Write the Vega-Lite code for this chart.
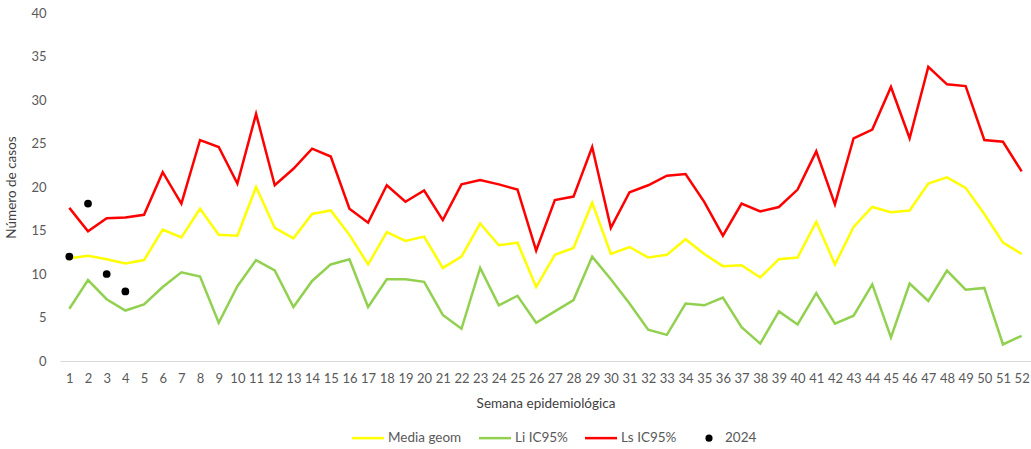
{
  "$schema": "https://vega.github.io/schema/vega-lite/v6.json",
  "autosize": {"type": "none"},
  "width": 971,
  "height": 348,
  "padding": {"left": 60, "top": 13, "right": 0, "bottom": 88},
  "background": "white",
  "config": {
    "font": "Lato",
    "view": {"stroke": null},
    "axis": {"labelFont": "Lato", "titleFont": "Lato", "labelColor": "#595959", "titleColor": "#404040", "labelFontSize": 13, "titleFontSize": 13.5, "titleFontWeight": "normal", "grid": false, "ticks": false}
  },
  "data": {"values": [
    {"semana":1,"serie":"Media geom","casos":11.8},{"semana":2,"serie":"Media geom","casos":12.1},{"semana":3,"serie":"Media geom","casos":11.7},{"semana":4,"serie":"Media geom","casos":11.2},{"semana":5,"serie":"Media geom","casos":11.6},{"semana":6,"serie":"Media geom","casos":15.1},{"semana":7,"serie":"Media geom","casos":14.2},{"semana":8,"serie":"Media geom","casos":17.5},{"semana":9,"serie":"Media geom","casos":14.5},{"semana":10,"serie":"Media geom","casos":14.4},
    {"semana":11,"serie":"Media geom","casos":20.0},{"semana":12,"serie":"Media geom","casos":15.3},{"semana":13,"serie":"Media geom","casos":14.1},{"semana":14,"serie":"Media geom","casos":16.9},{"semana":15,"serie":"Media geom","casos":17.3},{"semana":16,"serie":"Media geom","casos":14.5},{"semana":17,"serie":"Media geom","casos":11.1},{"semana":18,"serie":"Media geom","casos":14.8},{"semana":19,"serie":"Media geom","casos":13.8},{"semana":20,"serie":"Media geom","casos":14.3},
    {"semana":21,"serie":"Media geom","casos":10.7},{"semana":22,"serie":"Media geom","casos":12.0},{"semana":23,"serie":"Media geom","casos":15.8},{"semana":24,"serie":"Media geom","casos":13.3},{"semana":25,"serie":"Media geom","casos":13.6},{"semana":26,"serie":"Media geom","casos":8.5},{"semana":27,"serie":"Media geom","casos":12.2},{"semana":28,"serie":"Media geom","casos":13.0},{"semana":29,"serie":"Media geom","casos":18.2},{"semana":30,"serie":"Media geom","casos":12.3},
    {"semana":31,"serie":"Media geom","casos":13.1},{"semana":32,"serie":"Media geom","casos":11.9},{"semana":33,"serie":"Media geom","casos":12.2},{"semana":34,"serie":"Media geom","casos":14.0},{"semana":35,"serie":"Media geom","casos":12.3},{"semana":36,"serie":"Media geom","casos":10.9},{"semana":37,"serie":"Media geom","casos":11.0},{"semana":38,"serie":"Media geom","casos":9.6},{"semana":39,"serie":"Media geom","casos":11.7},{"semana":40,"serie":"Media geom","casos":11.9},
    {"semana":41,"serie":"Media geom","casos":16.0},{"semana":42,"serie":"Media geom","casos":11.1},{"semana":43,"serie":"Media geom","casos":15.4},{"semana":44,"serie":"Media geom","casos":17.7},{"semana":45,"serie":"Media geom","casos":17.1},{"semana":46,"serie":"Media geom","casos":17.3},{"semana":47,"serie":"Media geom","casos":20.4},{"semana":48,"serie":"Media geom","casos":21.1},{"semana":49,"serie":"Media geom","casos":19.9},{"semana":50,"serie":"Media geom","casos":16.9},
    {"semana":51,"serie":"Media geom","casos":13.6},{"semana":52,"serie":"Media geom","casos":12.3},
    {"semana":1,"serie":"Li IC95%","casos":6.0},{"semana":2,"serie":"Li IC95%","casos":9.3},{"semana":3,"serie":"Li IC95%","casos":7.1},{"semana":4,"serie":"Li IC95%","casos":5.8},{"semana":5,"serie":"Li IC95%","casos":6.5},{"semana":6,"serie":"Li IC95%","casos":8.5},{"semana":7,"serie":"Li IC95%","casos":10.2},{"semana":8,"serie":"Li IC95%","casos":9.7},{"semana":9,"serie":"Li IC95%","casos":4.4},{"semana":10,"serie":"Li IC95%","casos":8.6},
    {"semana":11,"serie":"Li IC95%","casos":11.6},{"semana":12,"serie":"Li IC95%","casos":10.4},{"semana":13,"serie":"Li IC95%","casos":6.2},{"semana":14,"serie":"Li IC95%","casos":9.2},{"semana":15,"serie":"Li IC95%","casos":11.1},{"semana":16,"serie":"Li IC95%","casos":11.7},{"semana":17,"serie":"Li IC95%","casos":6.2},{"semana":18,"serie":"Li IC95%","casos":9.4},{"semana":19,"serie":"Li IC95%","casos":9.4},{"semana":20,"serie":"Li IC95%","casos":9.1},
    {"semana":21,"serie":"Li IC95%","casos":5.3},{"semana":22,"serie":"Li IC95%","casos":3.7},{"semana":23,"serie":"Li IC95%","casos":10.7},{"semana":24,"serie":"Li IC95%","casos":6.4},{"semana":25,"serie":"Li IC95%","casos":7.5},{"semana":26,"serie":"Li IC95%","casos":4.4},{"semana":27,"serie":"Li IC95%","casos":5.7},{"semana":28,"serie":"Li IC95%","casos":7.0},{"semana":29,"serie":"Li IC95%","casos":12.0},{"semana":30,"serie":"Li IC95%","casos":9.4},
    {"semana":31,"serie":"Li IC95%","casos":6.6},{"semana":32,"serie":"Li IC95%","casos":3.6},{"semana":33,"serie":"Li IC95%","casos":3.0},{"semana":34,"serie":"Li IC95%","casos":6.6},{"semana":35,"serie":"Li IC95%","casos":6.4},{"semana":36,"serie":"Li IC95%","casos":7.3},{"semana":37,"serie":"Li IC95%","casos":3.9},{"semana":38,"serie":"Li IC95%","casos":2.0},{"semana":39,"serie":"Li IC95%","casos":5.7},{"semana":40,"serie":"Li IC95%","casos":4.2},
    {"semana":41,"serie":"Li IC95%","casos":7.8},{"semana":42,"serie":"Li IC95%","casos":4.3},{"semana":43,"serie":"Li IC95%","casos":5.2},{"semana":44,"serie":"Li IC95%","casos":8.8},{"semana":45,"serie":"Li IC95%","casos":2.7},{"semana":46,"serie":"Li IC95%","casos":8.9},{"semana":47,"serie":"Li IC95%","casos":6.9},{"semana":48,"serie":"Li IC95%","casos":10.4},{"semana":49,"serie":"Li IC95%","casos":8.2},{"semana":50,"serie":"Li IC95%","casos":8.4},
    {"semana":51,"serie":"Li IC95%","casos":1.9},{"semana":52,"serie":"Li IC95%","casos":2.9},
    {"semana":1,"serie":"Ls IC95%","casos":17.6},{"semana":2,"serie":"Ls IC95%","casos":14.9},{"semana":3,"serie":"Ls IC95%","casos":16.4},{"semana":4,"serie":"Ls IC95%","casos":16.5},{"semana":5,"serie":"Ls IC95%","casos":16.8},{"semana":6,"serie":"Ls IC95%","casos":21.7},{"semana":7,"serie":"Ls IC95%","casos":18.1},{"semana":8,"serie":"Ls IC95%","casos":25.4},{"semana":9,"serie":"Ls IC95%","casos":24.6},{"semana":10,"serie":"Ls IC95%","casos":20.4},
    {"semana":11,"serie":"Ls IC95%","casos":28.4},{"semana":12,"serie":"Ls IC95%","casos":20.2},{"semana":13,"serie":"Ls IC95%","casos":22.1},{"semana":14,"serie":"Ls IC95%","casos":24.4},{"semana":15,"serie":"Ls IC95%","casos":23.5},{"semana":16,"serie":"Ls IC95%","casos":17.5},{"semana":17,"serie":"Ls IC95%","casos":15.9},{"semana":18,"serie":"Ls IC95%","casos":20.2},{"semana":19,"serie":"Ls IC95%","casos":18.3},{"semana":20,"serie":"Ls IC95%","casos":19.6},
    {"semana":21,"serie":"Ls IC95%","casos":16.2},{"semana":22,"serie":"Ls IC95%","casos":20.3},{"semana":23,"serie":"Ls IC95%","casos":20.8},{"semana":24,"serie":"Ls IC95%","casos":20.3},{"semana":25,"serie":"Ls IC95%","casos":19.7},{"semana":26,"serie":"Ls IC95%","casos":12.7},{"semana":27,"serie":"Ls IC95%","casos":18.5},{"semana":28,"serie":"Ls IC95%","casos":18.9},{"semana":29,"serie":"Ls IC95%","casos":24.6},{"semana":30,"serie":"Ls IC95%","casos":15.3},
    {"semana":31,"serie":"Ls IC95%","casos":19.4},{"semana":32,"serie":"Ls IC95%","casos":20.2},{"semana":33,"serie":"Ls IC95%","casos":21.3},{"semana":34,"serie":"Ls IC95%","casos":21.5},{"semana":35,"serie":"Ls IC95%","casos":18.3},{"semana":36,"serie":"Ls IC95%","casos":14.4},{"semana":37,"serie":"Ls IC95%","casos":18.1},{"semana":38,"serie":"Ls IC95%","casos":17.2},{"semana":39,"serie":"Ls IC95%","casos":17.7},{"semana":40,"serie":"Ls IC95%","casos":19.7},
    {"semana":41,"serie":"Ls IC95%","casos":24.1},{"semana":42,"serie":"Ls IC95%","casos":18.0},{"semana":43,"serie":"Ls IC95%","casos":25.6},{"semana":44,"serie":"Ls IC95%","casos":26.6},{"semana":45,"serie":"Ls IC95%","casos":31.5},{"semana":46,"serie":"Ls IC95%","casos":25.6},{"semana":47,"serie":"Ls IC95%","casos":33.8},{"semana":48,"serie":"Ls IC95%","casos":31.8},{"semana":49,"serie":"Ls IC95%","casos":31.6},{"semana":50,"serie":"Ls IC95%","casos":25.4},
    {"semana":51,"serie":"Ls IC95%","casos":25.2},{"semana":52,"serie":"Ls IC95%","casos":21.8},
    {"semana":1,"serie":"2024","casos":12.0},{"semana":2,"serie":"2024","casos":18.1},{"semana":3,"serie":"2024","casos":10.0},{"semana":4,"serie":"2024","casos":8.0}
  ]},
  "encoding": {
    "x": {"field": "semana", "type": "quantitative", "title": "Semana epidemiológica",
      "scale": {"domain": [0.5, 52.5], "nice": false, "zero": false},
      "axis": {"values": [1,2,3,4,5,6,7,8,9,10,11,12,13,14,15,16,17,18,19,20,21,22,23,24,25,26,27,28,29,30,31,32,33,34,35,36,37,38,39,40,41,42,43,44,45,46,47,48,49,50,51,52], "labelAngle": 0, "labelPadding": 11, "domainColor": "#d9d9d9", "domainWidth": 1, "titlePadding": 11, "labelOverlap": false, "labelFlush": false}},
    "y": {"field": "casos", "type": "quantitative", "title": "Número de casos",
      "scale": {"domain": [0, 40], "nice": false},
      "axis": {"values": [0,5,10,15,20,25,30,35,40], "domain": false, "labelPadding": 14, "titlePadding": 12}},
    "color": {"field": "serie", "type": "nominal",
      "scale": {"domain": ["Media geom", "Li IC95%", "Ls IC95%", "2024"], "range": ["#FFFF00", "#92D050", "#FF0000", "#000000"]},
      "legend": {"title": null, "orient": "none", "direction": "horizontal", "legendX": 292, "legendY": 418,
        "labelFont": "Lato", "labelFontSize": 13.5, "labelColor": "#595959", "columnPadding": 12,
        "symbolSize": 1024, "symbolStrokeWidth": 2.5, "symbolType": "stroke",
        "encode": {
          "symbols": {"update": {
            "shape": {"signal": "datum.value === '2024' ? 'circle' : 'stroke'"},
            "size": {"signal": "datum.value === '2024' ? 50 : 1024"},
            "x": {"signal": "datum.value === '2024' ? 20 : 16"},
            "fill": {"signal": "datum.value === '2024' ? '#000000' : 'transparent'"},
            "strokeWidth": {"signal": "datum.value === '2024' ? 0 : 2.5"}
          }},
          "labels": {"update": {"x": {"value": 36}}}
        }}}
  },
  "layer": [
    {"transform": [{"filter": "datum.serie !== '2024'"}],
     "mark": {"type": "line", "strokeWidth": 2.5}},
    {"transform": [{"filter": "datum.serie === '2024'"}],
     "mark": {"type": "point", "filled": true, "size": 60, "opacity": 1}}
  ]
}
